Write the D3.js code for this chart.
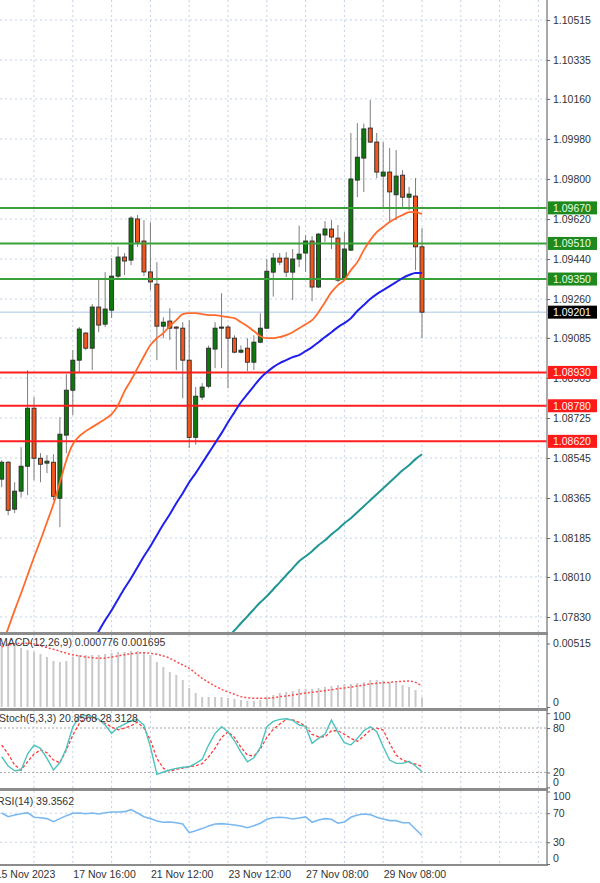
<!DOCTYPE html>
<html><head><meta charset="utf-8">
<script src="https://cdn.jsdelivr.net/npm/d3@7"></script>
<style>
body{margin:0;background:#fff}
svg{display:block}
text{font-family:"Liberation Sans",Arial,sans-serif}
</style></head>
<body><svg id="c" width="600" height="883"></svg>
<script>
// ---------- DATA (H4 candles, oldest -> newest) ----------
const open=[1.08450,1.08526,1.08315,1.08396,1.08508,1.08769,1.08544,1.08522,1.08526,1.08364,
1.08648,1.08850,1.08985,1.09107,1.09039,1.09224,1.09147,1.09210,1.09363,1.09449,
1.09435,1.09620,1.09521,1.09382,1.09327,1.09138,1.09161,1.09134,1.09129,1.08985,
1.08638,1.08819,1.08868,1.09035,1.09129,1.09134,1.09084,1.09021,1.09039,1.08976,
1.09066,1.09129,1.09381,1.09444,1.09444,1.09381,1.09440,1.09467,1.09521,1.09314,
1.09548,1.09575,1.09534,1.09354,1.09480,1.09795,1.09894,1.10029,1.09966,1.09813,
1.09831,1.09729,1.09817,1.09718,1.09723,1.09495];
const high=[1.08535,1.08531,1.08436,1.08594,1.08940,1.08819,1.08567,1.08558,1.08562,1.08729,
1.08922,1.09030,1.09134,1.09111,1.09237,1.09354,1.09381,1.09444,1.09495,1.09467,
1.09633,1.09638,1.09615,1.09605,1.09426,1.09178,1.09219,1.09138,1.09156,1.09165,
1.08864,1.08882,1.09051,1.09156,1.09286,1.09143,1.09097,1.09051,1.09084,1.09097,
1.09196,1.09440,1.09467,1.09467,1.09471,1.09485,1.09590,1.09548,1.09543,1.09557,
1.09611,1.09615,1.09593,1.09561,1.10007,1.10051,1.10049,1.10155,1.10007,1.09966,
1.09939,1.09930,1.09840,1.09764,1.09804,1.09579];
const low=[1.08414,1.08288,1.08297,1.08369,1.08378,1.08445,1.08436,1.08477,1.08355,1.08234,
1.08567,1.08738,1.08931,1.09030,1.08941,1.09111,1.09134,1.09174,1.09354,1.09368,
1.09413,1.09494,1.09363,1.09300,1.08985,1.09084,1.09075,1.08940,1.08814,1.08590,
1.08605,1.08805,1.08859,1.08949,1.08949,1.08859,1.09016,1.09016,1.08936,1.08941,
1.09061,1.09125,1.09271,1.09413,1.09359,1.09255,1.09404,1.09382,1.09250,1.09309,
1.09516,1.09485,1.09336,1.09345,1.09476,1.09718,1.09741,1.09962,1.09804,1.09674,
1.09605,1.09615,1.09674,1.09660,1.09390,1.09084];
const close=[1.08526,1.08310,1.08396,1.08508,1.08769,1.08544,1.08517,1.08531,1.08373,1.08652,
1.08850,1.08985,1.09125,1.09039,1.09224,1.09143,1.09215,1.09363,1.09449,1.09431,
1.09624,1.09516,1.09382,1.09337,1.09138,1.09156,1.09129,1.09129,1.08985,1.08638,
1.08823,1.08864,1.09039,1.09129,1.09134,1.09084,1.09021,1.09030,1.08976,1.09066,
1.09129,1.09385,1.09444,1.09426,1.09381,1.09440,1.09462,1.09521,1.09314,1.09552,
1.09575,1.09539,1.09345,1.09485,1.09800,1.09898,1.10025,1.09966,1.09831,1.09831,
1.09742,1.09813,1.09718,1.09732,1.09495,1.09201];

const maOrange=[1.07698,1.07779,1.07860,1.07937,1.08018,1.08099,1.08175,1.08256,1.08337,1.08436,
1.08535,1.08607,1.08643,1.08666,1.08684,1.08702,1.08720,1.08742,1.08783,1.08846,
1.08895,1.08949,1.09003,1.09053,1.09084,1.09107,1.09138,1.09165,1.09192,1.09197,
1.09197,1.09192,1.09188,1.09188,1.09183,1.09179,1.09174,1.09156,1.09138,1.09116,
1.09093,1.09084,1.09084,1.09089,1.09098,1.09111,1.09129,1.09147,1.09165,1.09201,
1.09246,1.09291,1.09323,1.09345,1.09390,1.09426,1.09480,1.09525,1.09561,1.09584,
1.09606,1.09624,1.09638,1.09651,1.09651,1.09642];
const maBlue=[null,null,null,null,null,null,null,null,null,null,null,null,null,null,
1.07716,1.07766,1.07815,1.07860,1.07910,1.07959,1.08004,1.08054,1.08103,1.08148,
1.08198,1.08247,1.08292,1.08342,1.08387,1.08436,1.08477,1.08522,1.08567,1.08612,
1.08657,1.08706,1.08751,1.08796,1.08832,1.08868,1.08904,1.08931,1.08954,1.08972,
1.08985,1.08999,1.09008,1.09026,1.09044,1.09066,1.09089,1.09111,1.09134,1.09152,
1.09174,1.09206,1.09233,1.09260,1.09282,1.09300,1.09318,1.09336,1.09354,1.09368,
1.09377,1.09377];
const maTeal=[null,null,null,null,null,null,null,null,null,null,null,null,null,null,null,
null,null,null,null,null,null,null,null,null,null,null,null,null,null,null,null,null,null,null,null,
1.07739,1.07770,1.07802,1.07833,1.07865,1.07896,1.07923,1.07955,1.07986,1.08018,
1.08049,1.08081,1.08103,1.08126,1.08153,1.08175,1.08202,1.08225,1.08252,1.08274,
1.08301,1.08328,1.08355,1.08382,1.08409,1.08436,1.08463,1.08490,1.08513,1.08540,
1.08562];

const priceTicks=[1.10515,1.10335,1.10160,1.09980,1.09800,1.09620,1.09440,1.09260,1.09085,1.08905,1.08725,1.08545,1.08365,1.08185,1.08010,1.07830];
const greenLevels=[1.09670,1.09510,1.09350];
const redLevels=[1.08930,1.08780,1.08620];
const lastPrice=1.09201;

const macdHist=[0.00519,0.00519,0.00503,0.00479,0.00462,0.00446,0.00430,0.00406,0.00373,0.00365,
0.00373,0.00406,0.00422,0.00422,0.00422,0.00422,0.00430,0.00438,0.00446,0.00446,
0.00454,0.00454,0.00446,0.00422,0.00365,0.00324,0.00284,0.00260,0.00219,0.00154,
0.00114,0.00081,0.00081,0.00081,0.00081,0.00073,0.00065,0.00057,0.00049,0.00049,
0.00057,0.00081,0.00097,0.00114,0.00122,0.00130,0.00146,0.00146,0.00146,0.00154,
0.00162,0.00170,0.00178,0.00187,0.00187,0.00195,0.00203,0.00219,0.00219,0.00211,
0.00203,0.00195,0.00178,0.00162,0.00138,0.000776];
const macdSignal=[0.00489,0.00503,0.00511,0.00517,0.00517,0.00511,0.00497,0.00481,0.00468,0.00452,
0.00436,0.00424,0.00414,0.00406,0.00400,0.00395,0.00397,0.00406,0.00414,0.00424,
0.00432,0.00438,0.00440,0.00436,0.00427,0.00414,0.00395,0.00367,0.00341,0.00314,
0.00273,0.00233,0.00200,0.00170,0.00144,0.00122,0.00103,0.00084,0.00075,0.00071,
0.00071,0.00071,0.00075,0.00084,0.00089,0.00097,0.00105,0.00114,0.00119,0.00127,
0.00132,0.00140,0.00148,0.00154,0.00162,0.00170,0.00178,0.00187,0.00192,0.00197,
0.00200,0.00205,0.00208,0.00211,0.00200,0.001695];
const macdTicks=[0.00515,0];

const stochK=[41.2,28.7,22.4,23.3,44.9,57.0,52.6,39.1,23.3,33.2,
52.6,81.7,95.1,97.0,95.1,92.0,84.0,72.8,80.9,85.3,
89.8,91.6,84.0,54.7,17.5,20.6,23.3,25.6,27.0,27.8,
32.3,37.7,57.0,72.8,81.7,74.9,62.8,47.6,34.5,39.9,
53.9,81.7,88.9,91.6,92.5,90.3,84.0,82.2,59.3,66.0,
71.8,90.7,74.1,60.1,57.0,66.0,76.3,81.7,74.9,54.7,
36.8,32.3,32.3,35.0,28.7,20.8568];
const stochD=[57.0,44.9,30.1,23.3,34.5,44.9,50.3,46.6,36.8,33.2,
50.3,70.5,86.3,93.4,94.3,90.3,86.3,81.3,77.6,79.9,
83.0,88.0,79.9,63.7,39.1,25.6,21.6,24.3,26.0,27.8,
29.1,31.8,41.2,53.0,67.4,74.9,67.4,53.9,43.5,42.2,
51.6,67.4,78.2,85.3,91.6,91.1,87.6,82.6,71.4,68.2,
68.2,76.3,76.3,71.4,66.0,62.0,69.1,77.2,79.9,77.2,
59.3,43.5,36.8,33.7,31.4,28.3128];
const stochTicks=[100,80,20,0];
const stochLevels=[80,20];

const rsi=[70.4,65.3,67.7,69.4,70.8,64.5,63.9,62.6,58.4,62.6,
66.7,70.0,70.4,69.4,70.4,69.0,70.8,71.8,71.8,72.2,
75.0,70.4,65.3,62.6,59.4,57.6,58.0,57.0,55.2,43.2,
46.0,48.8,52.5,55.2,55.7,54.8,53.9,52.5,50.1,52.9,
56.2,61.7,63.9,64.5,63.9,62.1,63.5,64.9,57.6,60.8,
62.6,61.7,56.2,58.0,64.5,67.7,69.0,68.1,64.5,62.1,
59.8,59.8,57.0,57.0,47.9,39.3562];
const rsiTicks=[100,70,30,0];
const rsiLevels=[70,30];

const timeLabels=["15 Nov 2023","17 Nov 16:00","21 Nov 12:00","23 Nov 12:00","27 Nov 08:00","29 Nov 08:00"];
const timeLabelBars=[-1,11,23,35,47,59];

// ---------- LAYOUT ----------
const svg=d3.select("#c");
const W=600, axisX=547;
const P={main:[0,632],macd:[635,708],stoch:[711,788],rsi:[791,864]};
const N=close.length;
const x=d3.scaleLinear().domain([0,N-1]).range([1.7,422]);
const barStep=x(1)-x(0);
const yMain=d3.scaleLinear().domain([1.07830,1.10515]).range([617,20]);
const yMacd=d3.scaleLinear().domain([0,0.00515]).range([707,643.5]);
const yStoch=d3.scaleLinear().domain([0,100]).range([787.3,713.2]);
const yRsi=d3.scaleLinear().domain([0,100]).range([864,791.5]);
const gridCol="#c3d1e6", txtCol="#333";

svg.append("rect").attr("width",W).attr("height",883).attr("fill","#fff");
const defs=svg.append("defs");
Object.entries(P).forEach(([k,[t,b]])=>{
  defs.append("clipPath").attr("id","clip-"+k).append("rect").attr("x",0).attr("y",t).attr("width",axisX).attr("height",b-t);
});

// vertical grid
const gridBars=d3.range(-1,Math.floor((axisX-1.7)/barStep)+1,6);
Object.entries(P).forEach(([k,[t,b]])=>{
  svg.append("g").selectAll("line").data(gridBars).join("line")
    .attr("x1",d=>x(d)).attr("x2",d=>x(d)).attr("y1",t).attr("y2",b)
    .attr("stroke",gridCol).attr("stroke-width",1).attr("stroke-dasharray","2,3");
});
// horizontal grid main
svg.append("g").selectAll("line").data(priceTicks).join("line")
  .attr("x1",0).attr("x2",axisX).attr("y1",d=>yMain(d)).attr("y2",d=>yMain(d))
  .attr("stroke",gridCol).attr("stroke-dasharray","2,3");
svg.append("g").selectAll("line").data(stochLevels).join("line")
  .attr("x1",0).attr("x2",axisX).attr("y1",d=>yStoch(d)).attr("y2",d=>yStoch(d))
  .attr("stroke","#a9a9a9").attr("stroke-dasharray","2,2");
svg.append("g").selectAll("line").data(rsiLevels).join("line")
  .attr("x1",0).attr("x2",axisX).attr("y1",d=>yRsi(d)).attr("y2",d=>yRsi(d))
  .attr("stroke",gridCol).attr("stroke-dasharray","2,3");

// ---------- MAIN ----------
const gm=svg.append("g").attr("clip-path","url(#clip-main)");
gm.append("line").attr("x1",0).attr("x2",axisX).attr("y1",yMain(lastPrice)).attr("y2",yMain(lastPrice))
  .attr("stroke","#a9c6e6").attr("stroke-width",1);
const idx=d3.range(N);
gm.append("g").selectAll("line").data(idx).join("line")
  .attr("x1",i=>x(i)).attr("x2",i=>x(i)).attr("y1",i=>yMain(high[i])).attr("y2",i=>yMain(low[i]))
  .attr("stroke","#7d7d7d").attr("stroke-width",1);
gm.append("g").selectAll("rect").data(idx).join("rect")
  .attr("x",i=>x(i)-2).attr("width",4)
  .attr("y",i=>yMain(Math.max(open[i],close[i])))
  .attr("height",i=>Math.max(1,Math.abs(yMain(open[i])-yMain(close[i]))))
  .attr("fill",i=>close[i]>=open[i]?"#0b7a0b":"#f2561d")
  .attr("stroke","#2a2a2a").attr("stroke-width",0.9);
gm.append("g").selectAll("line").data(greenLevels).join("line")
  .attr("x1",0).attr("x2",axisX).attr("y1",d=>yMain(d)).attr("y2",d=>yMain(d))
  .attr("stroke","#3aa13a").attr("stroke-width",2);
gm.append("g").selectAll("line").data(redLevels).join("line")
  .attr("x1",0).attr("x2",axisX).attr("y1",d=>yMain(d)).attr("y2",d=>yMain(d))
  .attr("stroke","#ff1f1f").attr("stroke-width",2);
function maLine(arr,col,w){
  const ln=d3.line().defined(d=>d!=null).x((d,i)=>x(i)).y(d=>yMain(d)).curve(d3.curveMonotoneX);
  gm.append("path").datum(arr).attr("d",ln).attr("fill","none").attr("stroke",col).attr("stroke-width",w);
}
maLine(maTeal,"#1f9595",2);
maLine(maBlue,"#2020ee",2);
maLine(maOrange,"#ff6b2c",1.8);

// ---------- MACD ----------
const gmd=svg.append("g").attr("clip-path","url(#clip-macd)");
gmd.append("g").selectAll("line").data(idx).join("line")
  .attr("x1",i=>x(i)).attr("x2",i=>x(i)).attr("y1",yMacd(0)).attr("y2",i=>yMacd(macdHist[i]))
  .attr("stroke","#c9c9c9").attr("stroke-width",2);
gmd.append("path").datum(macdSignal)
  .attr("d",d3.line().x((d,i)=>x(i)).y(d=>yMacd(d)).curve(d3.curveMonotoneX))
  .attr("fill","none").attr("stroke","#ff4a4a").attr("stroke-width",1.5).attr("stroke-dasharray","2,2");

// ---------- STOCH ----------
const gs=svg.append("g").attr("clip-path","url(#clip-stoch)");
gs.append("path").datum(stochD).attr("d",d3.line().x((d,i)=>x(i)).y(d=>yStoch(d)))
  .attr("fill","none").attr("stroke","#ff3b3b").attr("stroke-width",1.3).attr("stroke-dasharray","3,2");
gs.append("path").datum(stochK).attr("d",d3.line().x((d,i)=>x(i)).y(d=>yStoch(d)))
  .attr("fill","none").attr("stroke","#4cc3bd").attr("stroke-width",1.4);

// ---------- RSI ----------
const gr=svg.append("g").attr("clip-path","url(#clip-rsi)");
gr.append("path").datum(rsi).attr("d",d3.line().x((d,i)=>x(i)).y(d=>yRsi(d)))
  .attr("fill","none").attr("stroke","#7ab8f0").attr("stroke-width",1.6);

// ---------- PANEL BORDERS ----------
[[632,635],[708,711],[788,791],[864,866]].forEach(([a,b])=>{
  svg.append("rect").attr("x",0).attr("y",a).attr("width",axisX+1).attr("height",b-a).attr("fill","#8c8c8c");
});
svg.append("line").attr("x1",axisX).attr("x2",axisX).attr("y1",0).attr("y2",866)
  .attr("stroke","#8c8c8c").attr("stroke-width",1.5);

// ---------- AXES ----------
function styleAxis(g,top,bottom){
  g.select(".domain").remove();
  g.selectAll(".tick line").attr("stroke","#666");
  g.selectAll(".tick text").attr("fill",txtCol).style("font-size","10.5px")
    .attr("font-family","'Liberation Sans',Arial,sans-serif");
  if(top!=null){
    g.selectAll(".tick").each(function(){
      const tr=d3.select(this).attr("transform");
      const yy=+tr.match(/,([-\d.]+)\)/)[1];
      const yc=Math.max(top+6,Math.min(bottom-5,yy));
      d3.select(this).select("text").attr("y",yc-yy);
    });
  }
}
svg.append("g").attr("transform",`translate(${axisX},0)`)
  .call(d3.axisRight(yMain).tickValues(priceTicks).tickFormat(d3.format(".5f")).tickSize(3).tickPadding(3))
  .call(g=>styleAxis(g));
svg.append("g").attr("transform",`translate(${axisX},0)`)
  .call(d3.axisRight(yMacd).tickValues(macdTicks).tickFormat(d=>d===0?"0":d3.format(".5f")(d)).tickSize(3).tickPadding(3))
  .call(g=>styleAxis(g,P.macd[0],P.macd[1]));
svg.append("g").attr("transform",`translate(${axisX},0)`)
  .call(d3.axisRight(yStoch).tickValues(stochTicks).tickFormat(d3.format("d")).tickSize(3).tickPadding(3))
  .call(g=>styleAxis(g,P.stoch[0],P.stoch[1]));
svg.append("g").attr("transform",`translate(${axisX},0)`)
  .call(d3.axisRight(yRsi).tickValues(rsiTicks).tickFormat(d3.format("d")).tickSize(3).tickPadding(3))
  .call(g=>styleAxis(g,P.rsi[0],P.rsi[1]));

// price tags
function tag(v,bg,fg){
  const yy=yMain(v);
  svg.append("rect").attr("x",axisX+1).attr("y",yy-6.5).attr("width",49).attr("height",13).attr("fill",bg);
  svg.append("text").attr("x",axisX+6).attr("y",yy+4).attr("fill",fg).style("font-size","10.5px")
    .text(d3.format(".5f")(v));
}
greenLevels.forEach(v=>tag(v,"#1e8a1e","#e8ffe8"));
redLevels.forEach(v=>tag(v,"#ff1a1a","#fff0f0"));
tag(lastPrice,"#000","#fff");

// time axis
svg.append("g").attr("transform",`translate(0,866)`)
  .call(d3.axisBottom(x).tickValues(timeLabelBars).tickFormat((d,i)=>timeLabels[i]).tickSize(0).tickPadding(5))
  .call(g=>{g.select(".domain").remove();
    g.selectAll(".tick text").attr("text-anchor","start").attr("fill",txtCol).style("font-size","10.5px");});

// indicator titles
svg.append("text").attr("x",-1).attr("y",P.macd[0]+11).attr("fill",txtCol).style("font-size","10.5px").text("MACD(12,26,9) 0.000776 0.001695");
svg.append("text").attr("x",-1).attr("y",P.stoch[0]+11).attr("fill",txtCol).style("font-size","10.5px").text("Stoch(5,3,3) 20.8568 28.3128");
svg.append("text").attr("x",-3).attr("y",P.rsi[0]+14).attr("fill",txtCol).style("font-size","10.5px").text("RSI(14) 39.3562");
</script>
</body></html>
